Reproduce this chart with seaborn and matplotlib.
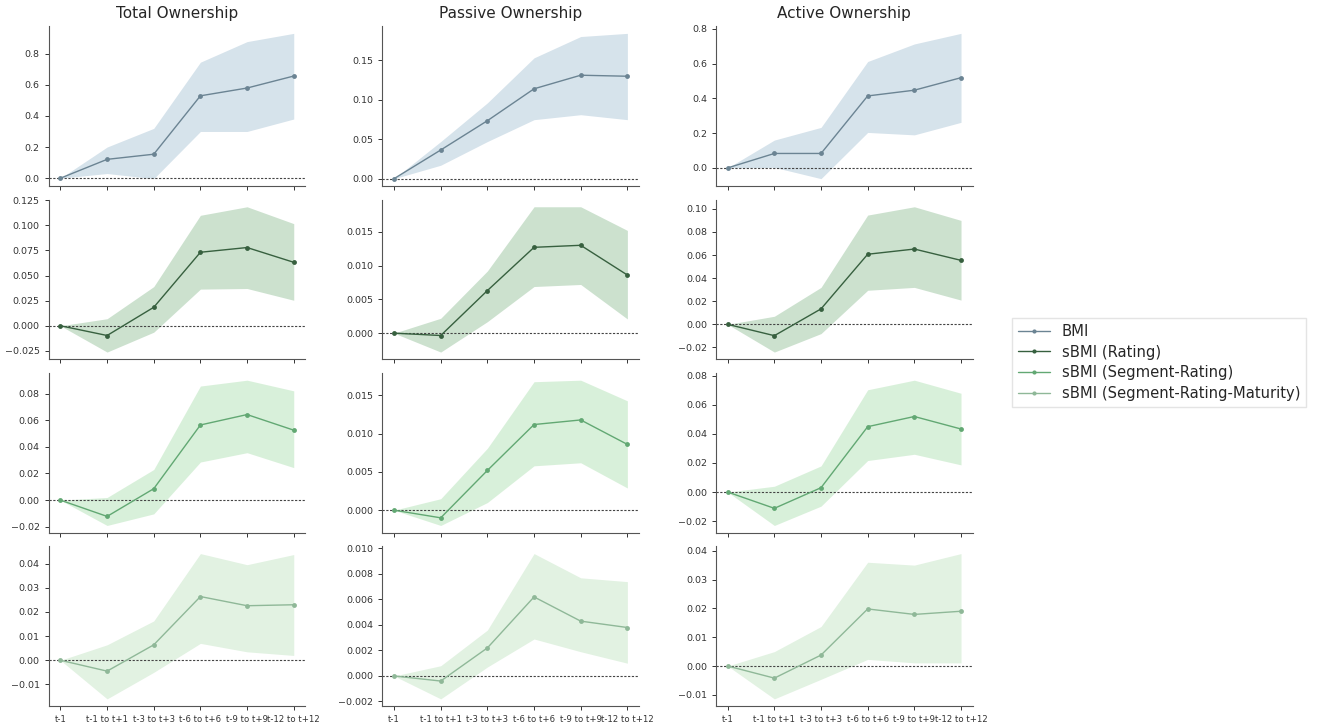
import numpy as np
import pandas as pd
import matplotlib
matplotlib.use("Agg")
import matplotlib.pyplot as plt
from matplotlib.lines import Line2D
from matplotlib.ticker import MultipleLocator
import seaborn as sns

# Event-window labels on the x axis
periods = ["t-1", "t-1 to t+1", "t-3 to t+3", "t-6 to t+6", "t-9 to t+9", "t-12 to t+12"]

ownerships = ["Total Ownership", "Passive Ownership", "Active Ownership"]
measures = ["BMI", "sBMI (Rating)", "sBMI (Segment-Rating)", "sBMI (Segment-Rating-Maturity)"]

# ---- Total ownership: point estimates and confidence bands ----
total_bmi = [0, 0.121, 0.154, 0.529, 0.579, 0.656]
total_bmi_lo = [0, 0.030, -0.003, 0.300, 0.300, 0.380]
total_bmi_hi = [0, 0.200, 0.320, 0.745, 0.877, 0.930]

total_rating = [0, -0.0097, 0.0184, 0.0732, 0.0779, 0.0632]
total_rating_lo = [0, -0.0262, -0.0064, 0.0365, 0.0371, 0.0254]
total_rating_hi = [0, 0.0070, 0.0390, 0.1100, 0.1185, 0.1017]

total_segrat = [0, -0.0122, 0.0086, 0.0564, 0.0642, 0.0525]
total_segrat_lo = [0, -0.0190, -0.0103, 0.0286, 0.0356, 0.0244]
total_segrat_hi = [0, 0.0020, 0.0230, 0.0856, 0.0900, 0.0820]

total_segratmat = [0, -0.0045, 0.0064, 0.0264, 0.0226, 0.0230]
total_segratmat_lo = [0, -0.0160, -0.0050, 0.0070, 0.0035, 0.0020]
total_segratmat_hi = [0, 0.0064, 0.0163, 0.0442, 0.0396, 0.0438]

# ---- Passive ownership ----
passive_bmi = [0, 0.0363, 0.0734, 0.1138, 0.1310, 0.1297]
passive_bmi_lo = [0, 0.0170, 0.0470, 0.0747, 0.0810, 0.0747]
passive_bmi_hi = [0, 0.0470, 0.0960, 0.1530, 0.1800, 0.1840]

passive_rating = [0, -0.00035, 0.0063, 0.0127, 0.0130, 0.0086]
passive_rating_lo = [0, -0.0028, 0.0017, 0.0069, 0.0072, 0.0021]
passive_rating_hi = [0, 0.0022, 0.0092, 0.0187, 0.0187, 0.0152]

passive_segrat = [0, -0.0010, 0.0052, 0.0112, 0.0118, 0.0086]
passive_segrat_lo = [0, -0.0020, 0.0010, 0.0058, 0.0062, 0.0029]
passive_segrat_hi = [0, 0.0015, 0.0081, 0.0168, 0.0170, 0.0143]

passive_segratmat = [0, -0.0004, 0.0022, 0.0062, 0.0043, 0.0038]
passive_segratmat_lo = [0, -0.0018, 0.0007, 0.0029, 0.0019, 0.0010]
passive_segratmat_hi = [0, 0.0008, 0.0036, 0.0096, 0.0077, 0.0074]

# ---- Active ownership ----
active_bmi = [0, 0.083, 0.083, 0.414, 0.447, 0.519]
active_bmi_lo = [0, 0.003, -0.062, 0.204, 0.190, 0.262]
active_bmi_hi = [0, 0.160, 0.233, 0.612, 0.713, 0.774]

active_rating = [0, -0.0098, 0.0134, 0.0607, 0.0652, 0.0554]
active_rating_lo = [0, -0.0240, -0.0080, 0.0295, 0.0320, 0.0210]
active_rating_hi = [0, 0.0070, 0.0320, 0.0946, 0.1018, 0.0900]

active_segrat = [0, -0.0112, 0.0030, 0.0450, 0.0520, 0.0434]
active_segrat_lo = [0, -0.0230, -0.0097, 0.0217, 0.0260, 0.0187]
active_segrat_hi = [0, 0.0040, 0.0180, 0.0704, 0.0770, 0.0680]

active_segratmat = [0, -0.0042, 0.0038, 0.0198, 0.0179, 0.0190]
active_segratmat_lo = [0, -0.0114, -0.0046, 0.0023, 0.0011, 0.0011]
active_segratmat_hi = [0, 0.0050, 0.0137, 0.0360, 0.0350, 0.0390]

series = {
    ("Total Ownership", "BMI"): (total_bmi, total_bmi_lo, total_bmi_hi),
    ("Total Ownership", "sBMI (Rating)"): (total_rating, total_rating_lo, total_rating_hi),
    ("Total Ownership", "sBMI (Segment-Rating)"): (total_segrat, total_segrat_lo, total_segrat_hi),
    ("Total Ownership", "sBMI (Segment-Rating-Maturity)"): (total_segratmat, total_segratmat_lo, total_segratmat_hi),
    ("Passive Ownership", "BMI"): (passive_bmi, passive_bmi_lo, passive_bmi_hi),
    ("Passive Ownership", "sBMI (Rating)"): (passive_rating, passive_rating_lo, passive_rating_hi),
    ("Passive Ownership", "sBMI (Segment-Rating)"): (passive_segrat, passive_segrat_lo, passive_segrat_hi),
    ("Passive Ownership", "sBMI (Segment-Rating-Maturity)"): (passive_segratmat, passive_segratmat_lo, passive_segratmat_hi),
    ("Active Ownership", "BMI"): (active_bmi, active_bmi_lo, active_bmi_hi),
    ("Active Ownership", "sBMI (Rating)"): (active_rating, active_rating_lo, active_rating_hi),
    ("Active Ownership", "sBMI (Segment-Rating)"): (active_segrat, active_segrat_lo, active_segrat_hi),
    ("Active Ownership", "sBMI (Segment-Rating-Maturity)"): (active_segratmat, active_segratmat_lo, active_segratmat_hi),
}

rows = []
for (own, meas), (est, lo, hi) in series.items():
    for p, e, l, h in zip(periods, est, lo, hi):
        rows.append({"ownership": own, "measure": meas, "period": p,
                     "estimate": e, "lower": l, "upper": h})
df = pd.DataFrame(rows)

line_colors = {
    "BMI": "#6b8493",
    "sBMI (Rating)": "#37603f",
    "sBMI (Segment-Rating)": "#62a873",
    "sBMI (Segment-Rating-Maturity)": "#8fb898",
}
band_colors = {
    "BMI": "#cfdee8",
    "sBMI (Rating)": "#c3dcc6",
    "sBMI (Segment-Rating)": "#d2eed4",
    "sBMI (Segment-Rating-Maturity)": "#ddf0dd",
}

sns.set_style("ticks")
plt.rcParams["font.family"] = ["DejaVu Sans"]

fig, axes = plt.subplots(4, 3, figsize=(13.18, 7.25), dpi=100, sharex=True)
fig.subplots_adjust(left=0.037, right=0.738, top=0.964, bottom=0.026,
                    wspace=0.30, hspace=0.085)

for j, own in enumerate(ownerships):
    for i, meas in enumerate(measures):
        ax = axes[i, j]
        sub = df[(df["ownership"] == own) & (df["measure"] == meas)]
        sns.lineplot(data=sub, x="period", y="estimate", ax=ax,
                     color=line_colors[meas], marker="o", markersize=3.5,
                     markeredgewidth=0, linewidth=1.0, zorder=3)
        ax.fill_between(sub["period"], sub["lower"], sub["upper"],
                        color=band_colors[meas], alpha=0.85, linewidth=0, zorder=1)
        ax.axhline(0, color="#444444", linestyle=(0, (2, 1.4)), linewidth=0.8, zorder=2)
        ax.set_xlabel("")
        ax.set_ylabel("")
        ax.tick_params(axis="y", labelsize=6.8, colors="#333333", length=3, width=0.7)
        ax.tick_params(axis="x", labelsize=6.1, colors="#333333", length=3, width=0.7)
        for side in ("left", "bottom"):
            ax.spines[side].set_color("#555555")
            ax.spines[side].set_linewidth(0.8)
        sns.despine(ax=ax)
        if i == 0:
            ax.set_title(own, fontsize=11, pad=6)

# the rating-adjusted total panel is labelled in quarter-step increments
axes[1, 0].yaxis.set_major_locator(MultipleLocator(0.025))

handles = [Line2D([0], [0], color=line_colors[m], marker="o", markersize=3,
                  markeredgewidth=0, linewidth=1.0) for m in measures]
fig.legend(handles, measures, loc="center left", bbox_to_anchor=(0.762, 0.5),
           fontsize=10.6, frameon=True, edgecolor="#e4e4e4", framealpha=1.0,
           fancybox=False, handlelength=2.2, labelspacing=0.4)

fig.savefig("out.png", dpi=100)
